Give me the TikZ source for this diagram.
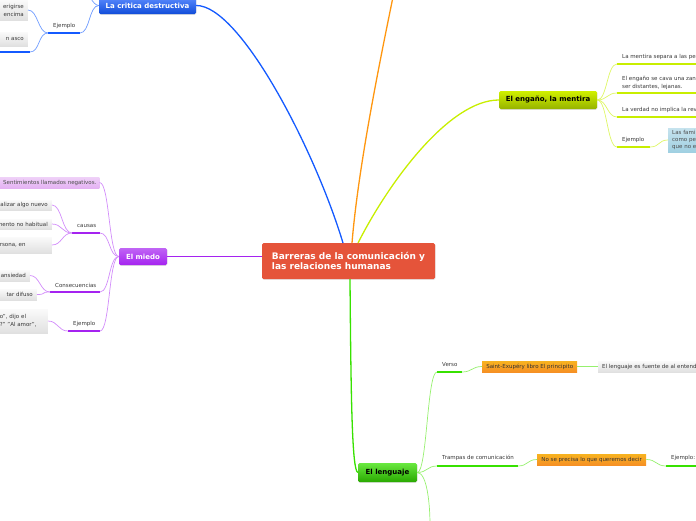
\documentclass[tikz,border=0pt]{standalone}
\usepackage{fontspec}
\setmainfont{DejaVu Sans}
\usetikzlibrary{positioning,shadows}
\definecolor{rootred}{RGB}{229,84,58}
\definecolor{critblue}{RGB}{20,90,255}
\definecolor{critlight}{RGB}{110,155,255}
\definecolor{fearpurple}{RGB}{165,35,240}
\definecolor{fearlight}{RGB}{210,140,250}
\definecolor{fearpink}{RGB}{228,178,243}
\definecolor{lieyellow}{RGB}{200,238,0}
\definecolor{lielight}{RGB}{222,246,100}
\definecolor{langgreen}{RGB}{55,225,0}
\definecolor{langlight}{RGB}{150,240,110}
\definecolor{branchorange}{RGB}{255,150,15}
\definecolor{notebox}{RGB}{245,160,40}
\definecolor{skyblue}{RGB}{160,208,226}
\definecolor{labgrey}{RGB}{55,55,55}
\tikzset{
  root/.style={rounded corners=1.5pt,fill=rootred,text=white,font=\fontsize{9}{10.5}\selectfont\bfseries,align=left,minimum width=173pt,minimum height=36pt,drop shadow={opacity=0.2,shadow xshift=0.5pt,shadow yshift=-0.8pt}},
  topic/.style={rounded corners=1.5pt,font=\fontsize{7}{8}\selectfont\bfseries,minimum height=17pt,drop shadow={opacity=0.25,shadow xshift=0.4pt,shadow yshift=-0.8pt}},
  leaf/.style={top color=black!2,bottom color=black!12,inner xsep=4pt,inner ysep=1.5pt,align=left,font=\fontsize{5.5}{8}\selectfont,text=labgrey},
  cutleaf/.style={leaf,anchor=east,align=right,text width=#1},
  note/.style={top color=notebox!80!yellow,bottom color=notebox!90!red,inner xsep=4pt,inner ysep=1pt,minimum height=11pt,font=\fontsize{5.5}{7}\selectfont,text=black!80},
  lab/.style={anchor=west,inner sep=0pt,align=left,font=\fontsize{5.5}{8}\selectfont,text=labgrey},
  uline/.style={line width=2.4pt},
  conn/.style={line width=1.3pt},
  twig/.style={line width=0.7pt},
  every picture/.style={x=1pt,y=-1pt}
}
\begin{document}
\begin{tikzpicture}
\useasboundingbox (0,0) rectangle (696,520);
\clip (0,0) rectangle (696,520);
\node[root] (root) at (348.5,261) {Barreras de la comunicación y\\las relaciones humanas};
\node[topic,top color=critblue!70!white,bottom color=critblue!85!black,text=white,minimum width=97pt] (crit) at (147.5,5.5) {La critica destructiva};
\node[topic,top color=fearpurple!70!white,bottom color=fearpurple,text=white,minimum width=48pt] (miedo) at (143,256.5) {El miedo};
\node[topic,top color=lieyellow!85!yellow,bottom color=lieyellow!75!black,minimum width=98pt,minimum height=18pt] (engano) at (548,100) {El engaño, la mentira};
\node[topic,top color=langgreen!75!white,bottom color=langgreen!75!black,minimum width=59pt,minimum height=19pt] (lang) at (387.5,472.5) {El lenguaje};
\coordinate (rootB) at (343,243); \coordinate (rootO) at (352,243); \coordinate (rootY) at (358,243); \coordinate (rootG) at (350,279); \coordinate (offO) at (393,-3);
\draw[conn,critblue] (rootB) .. controls (315,150) and (240,5) .. (crit.east);
\draw[conn,branchorange] (rootO) .. controls (358,170) and (378,70) .. (offO);
\draw[conn,lieyellow] (rootY) .. controls (390,180) and (450,100) .. (engano.west);
\draw[conn,fearpurple] (root.west |- miedo.east) -- (miedo.east);
\draw[conn,langgreen] (rootG) .. controls (351,400) and (352,470) .. (lang.west);

\node[cutleaf=40pt,minimum height=20pt] (erig) at (28,10) {erigirse\\encima};
\node[cutleaf=40pt,minimum height=14pt] (asco) at (28,39) {n asco};
\coordinate (ascoL) at (-3,52); \coordinate (ascoR) at (30,52);
\coordinate (ej1L) at (48,33); \coordinate (ej1R) at (80,33); \coordinate (critUp) at (87,-14);
\node[lab] (ej1) at (53,26) {Ejemplo};
\draw[uline,critblue] (ascoL) -- (ascoR); \draw[uline,critblue] (ej1L) -- (ej1R);
\draw[twig,critlight] (crit.west) .. controls +(-10,0) and +(10,0) .. (ej1R);
\draw[twig,critlight] (crit.west) .. controls +(-6,0) and +(0,6) .. (critUp);
\draw[twig,critlight] (ej1L) .. controls +(-10,0) and +(10,0) .. (erig.east);
\draw[twig,critlight] (ej1L) .. controls +(-10,0) and +(10,0) .. (ascoR);

\node[leaf,anchor=west,top color=fearpink!60!white,bottom color=fearpink,minimum height=11pt,inner xsep=3pt,text=black!70] (sent) at (0,182.5) {Sentimientos llamados negativos.};
\coordinate (cauL) at (72,233); \coordinate (cauR) at (100,233);
\node[lab] (cau) at (77,226) {causas};
\node[cutleaf=60pt,minimum height=10pt] (cau1) at (52,205) {alizar algo nuevo};
\node[cutleaf=60pt,minimum height=10pt] (cau2) at (52,224) {mento no habitual};
\node[leaf,anchor=east,minimum height=16pt,text width=48pt] (cau3) at (52,245) {rsona, en};
\coordinate (conL) at (50,292); \coordinate (conR) at (100,292);
\node[lab] (con) at (55,285) {Consecuencias};
\node[cutleaf=40pt,minimum height=11pt] (con1) at (30,275.5) {ansiedad};
\node[cutleaf=40pt,minimum height=11pt] (con2) at (37,294.5) {tar difuso};
\coordinate (ej2L) at (68,331); \coordinate (ej2R) at (100,331);
\node[lab] (ej2) at (73,324) {Ejemplo};
\node[leaf,anchor=east,text width=44pt,minimum height=24pt] (ej2t) at (48,321) {o", dijo el\\?" "Al amor",};
\draw[uline,fearpurple] (cauL) -- (cauR); \draw[uline,fearpurple] (conL) -- (conR); \draw[uline,fearpurple] (ej2L) -- (ej2R);
\draw[twig,fearlight] (miedo.west) .. controls +(-10,0) and +(10,0) .. (sent.east);
\draw[twig,fearlight] (miedo.west) .. controls +(-10,0) and +(10,0) .. (cauR);
\draw[twig,fearlight] (miedo.west) .. controls +(-10,0) and +(10,0) .. (conR);
\draw[twig,fearlight] (miedo.west) .. controls +(-10,0) and +(10,0) .. (ej2R);
\draw[twig,fearlight] (cauL) .. controls +(-10,0) and +(10,0) .. (cau1.east);
\draw[twig,fearlight] (cauL) .. controls +(-10,0) and +(10,0) .. (cau2.east);
\draw[twig,fearlight] (cauL) .. controls +(-10,0) and +(10,0) .. (cau3.east);
\draw[twig,fearlight] (conL) .. controls +(-10,0) and +(10,0) .. (con1.east);
\draw[twig,fearlight] (conL) .. controls +(-10,0) and +(10,0) .. (con2.east);
\draw[twig,fearlight] (ej2L) .. controls +(-10,0) and +(10,0) .. (ej2t.east);

\coordinate (lie1L) at (617,64); \coordinate (lie1R) at (700,64);
\coordinate (lie2L) at (617,93); \coordinate (lie2R) at (700,93);
\coordinate (lie3L) at (617,117); \coordinate (lie3R) at (700,117);
\coordinate (ej3L) at (617,147); \coordinate (ej3R) at (650,147);
\node[lab] (lie1) at (622,56.5) {La mentira separa a las pe};
\node[lab] (lie2) at (622,83) {El engaño se cava una zan\\ser distantes, lejanas.};
\node[lab] (lie3) at (622,110) {La verdad no implica la rev};
\node[lab] (ej3) at (622,140) {Ejemplo};
\node[leaf,anchor=west,top color=skyblue!60!white,bottom color=skyblue,minimum height=24pt,font=\fontsize{5.5}{7.2}\selectfont,text=black!70] (fam) at (668,140) {Las fami\\como pe\\que no e};
\draw[uline,lieyellow] (lie1L) -- (lie1R); \draw[uline,lieyellow] (lie2L) -- (lie2R); \draw[uline,lieyellow] (lie3L) -- (lie3R); \draw[uline,lieyellow] (ej3L) -- (ej3R);
\draw[twig,lielight] (engano.east) .. controls +(10,0) and +(-10,0) .. (lie1L);
\draw[twig,lielight] (engano.east) .. controls +(10,0) and +(-10,0) .. (lie2L);
\draw[twig,lielight] (engano.east) .. controls +(10,0) and +(-10,0) .. (lie3L);
\draw[twig,lielight] (engano.east) .. controls +(10,0) and +(-10,0) .. (ej3L);
\draw[twig,lielight] (ej3R) .. controls +(10,0) and +(-10,0) .. (fam.west);

\coordinate (verL) at (437,372); \coordinate (verR) at (462,372);
\coordinate (traL) at (437,466); \coordinate (traR) at (518,466);
\coordinate (ej4L) at (666,466); \coordinate (ej4R) at (700,466);
\coordinate (langDown) at (430,525);
\node[lab] (ver) at (442,365) {Verso};
\node[note,anchor=west,minimum width=95pt] (saint) at (482,366.5) {Saint-Exupéry libro El principito};
\node[leaf,anchor=west,minimum height=11pt] (fuente) at (598,366.5) {El lenguaje es fuente de al entend};
\node[lab] (tra) at (442,458) {Trampas de comunicación};
\node[note,anchor=west,minimum width=109pt] (precisa) at (537,459.5) {No se precisa lo que queremos decir};
\node[lab] (ej4) at (671,458) {Ejemplo:};
\draw[uline,langgreen] (verL) -- (verR); \draw[uline,langgreen] (traL) -- (traR); \draw[uline,langgreen] (ej4L) -- (ej4R);
\draw[twig,langlight] (lang.east) .. controls +(10,0) and +(-10,0) .. (verL);
\draw[twig,langlight] (lang.east) .. controls +(10,0) and +(-10,0) .. (traL);
\draw[twig,langlight] (lang.east) .. controls +(10,0) and +(0,-20) .. (langDown);
\draw[twig,langlight] (verR) .. controls +(10,0) and +(-10,0) .. (saint.west);
\draw[twig,langlight] (saint.east) -- (fuente.west);
\draw[twig,langlight] (traR) .. controls +(10,0) and +(-10,0) .. (precisa.west);
\draw[twig,langlight] (precisa.east) .. controls +(10,0) and +(-10,0) .. (ej4L);
\end{tikzpicture}
\end{document}
